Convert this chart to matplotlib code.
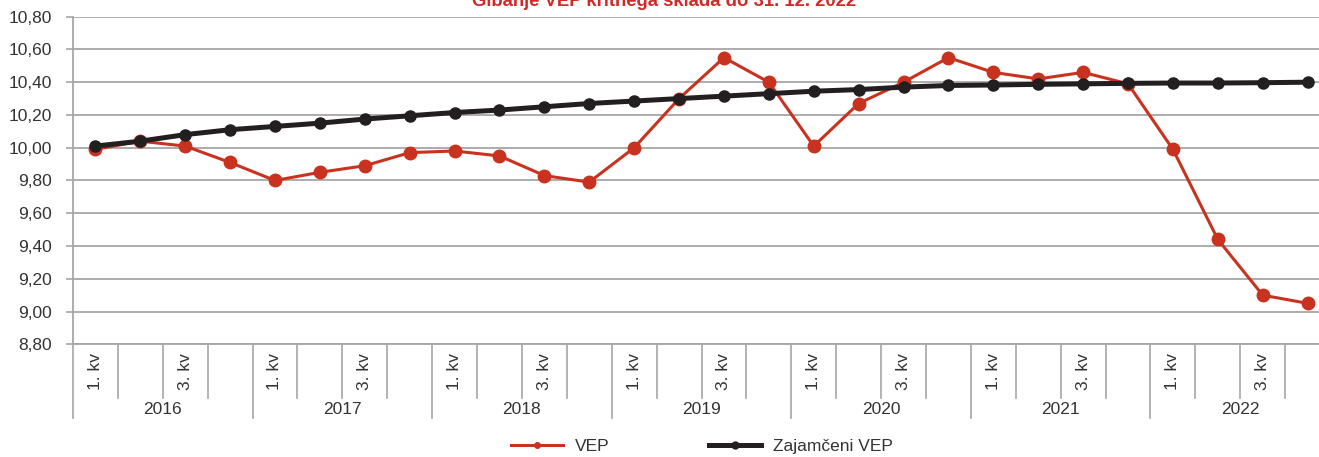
import matplotlib.pyplot as plt
from matplotlib.lines import Line2D

plt.rcParams['font.family'] = ['Liberation Sans', 'DejaVu Sans']

# quarterly data 2016 - 2022
years = ['2016', '2017', '2018', '2019', '2020', '2021', '2022']
quarter_labels = ['1. kv', '', '3. kv', '']

vep = [9.99, 10.04, 10.01, 9.91,
       9.80, 9.85, 9.89, 9.97,
       9.98, 9.95, 9.83, 9.79,
       10.00, 10.30, 10.55, 10.40,
       10.01, 10.27, 10.40, 10.55,
       10.46, 10.42, 10.46, 10.39,
       9.99, 9.44, 9.10, 9.05]

zajamceni = [10.01, 10.04, 10.08, 10.11,
             10.13, 10.15, 10.175, 10.195,
             10.215, 10.23, 10.25, 10.27,
             10.285, 10.30, 10.315, 10.33,
             10.345, 10.355, 10.37, 10.38,
             10.383, 10.387, 10.39, 10.393,
             10.395, 10.395, 10.397, 10.40]

red = '#c8321e'
dark = '#231f20'
grid_col = '#a6a6a6'
text_col = '#333333'

fig = plt.figure(figsize=(13.19, 4.57), dpi=100)
ax = fig.add_axes([0.0553, 0.2466, 0.9531, 0.7169])

x = list(range(len(vep)))
ax.plot(x, vep, color=red, lw=2.2, marker='o', ms=9, zorder=3, label='VEP')
ax.plot(x, zajamceni, color=dark, lw=3.6, marker='o', ms=8, zorder=4, label='Zajamčeni VEP')

ax.set_xlim(-0.5, len(vep) - 0.5)
ax.set_ylim(8.8, 10.8)
yt = [8.8 + 0.2 * i for i in range(11)]
ax.set_yticks(yt)
ax.set_yticklabels([f'{v:.2f}'.replace('.', ',') for v in yt], fontsize=12.5, color=text_col)
ax.tick_params(axis='y', length=5, width=1.2, color=grid_col, pad=10)
ax.set_xticks([])
ax.grid(axis='y', color=grid_col, lw=1.3)
ax.set_axisbelow(True)
for s in ['top', 'right']:
    ax.spines[s].set_visible(False)
for s in ['left', 'bottom']:
    ax.spines[s].set_color(grid_col)
    ax.spines[s].set_linewidth(1.3)

# category axis: quarter separators, quarter labels, year labels
trans = ax.get_xaxis_transform()
for k in range(len(vep) + 1):
    low = -0.225 if k % 4 == 0 else -0.164
    ax.plot([k - 0.5, k - 0.5], [0, low], transform=trans, color=grid_col,
            lw=1.2, clip_on=False)
for k in range(len(vep)):
    lab = quarter_labels[k % 4]
    if lab:
        ax.text(k, -0.083, lab, transform=trans, rotation=90, ha='center',
                va='center', fontsize=12.5, color=text_col)
for i, yr in enumerate(years):
    ax.text(i * 4 + 1.5, -0.2, yr, transform=trans, ha='center', va='center',
            fontsize=12.5, color=text_col)

# title sits partly above the top edge, as in the source image
fig.text(0.5035, 1 - 6 / 457, 'Gibanje VEP kritnega sklada do 31. 12. 2022',
         ha='center', va='baseline', fontsize=13.3, fontweight='bold', color='#d02a28')

handles = [Line2D([], [], color=red, lw=2.2, marker='o', ms=4),
           Line2D([], [], color=dark, lw=3.6, marker='o', ms=5)]
fig.legend(handles, ['VEP', 'Zajamčeni VEP'], loc='center', bbox_to_anchor=(0.532, 0.024),
           ncol=2, frameon=False, fontsize=12.5, handlelength=3.0, columnspacing=5.7,
           handletextpad=0.7, labelcolor=text_col)

fig.savefig('out.png', dpi=100)
